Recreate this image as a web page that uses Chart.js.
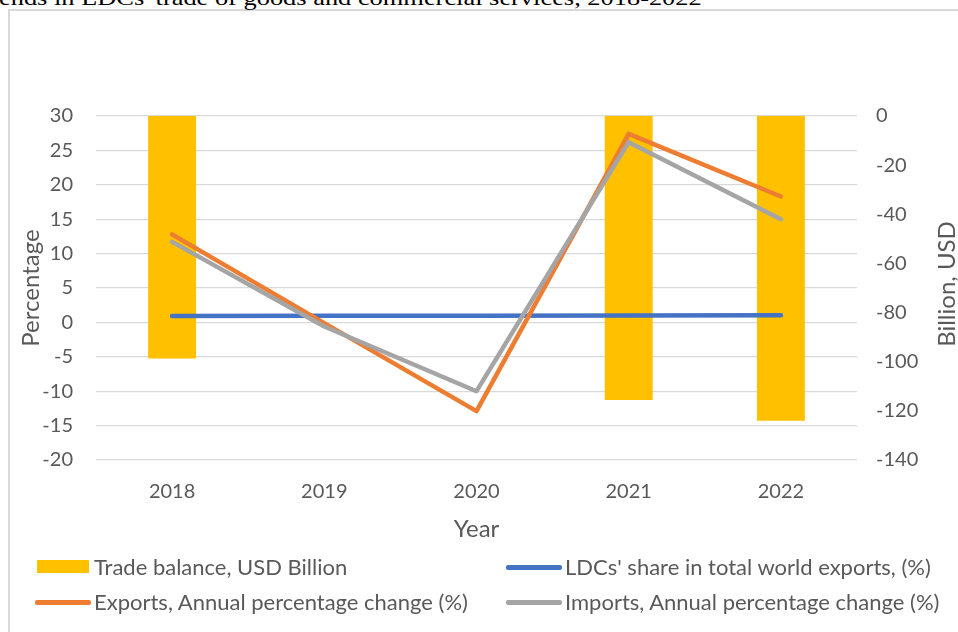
<!DOCTYPE html>
<html>
<head>
<meta charset="utf-8">
<script src="https://cdn.jsdelivr.net/npm/chart.js@4"></script>
<style>
  html, body { margin: 0; padding: 0; background: #fff; }
  body { width: 958px; height: 632px; position: relative; overflow: hidden; }
  #frame { position: absolute; left: 8px; top: 9px; width: 2000px; height: 2000px; border: 2px solid #d9d9d9; box-sizing: border-box; }
  #title { position: absolute; left: -1px; top: -12.7px; font: 22px "Liberation Serif", "Times New Roman", serif; line-height: 22px; color: #000; white-space: nowrap; transform: scaleX(1.2); transform-origin: 0 0; }
  #wrap { position: absolute; left: 0; top: 0; width: 958px; height: 632px; }
  .leg { position: absolute; font: 22px Lato, sans-serif; color: #595959; white-space: nowrap; line-height: 26px; }
  .sw { position: absolute; }
</style>
</head>
<body>
<div id="frame"></div>
<div id="title">ends in LDCs' trade of goods and commercial services, 2018-2022</div>
<div id="wrap"><canvas id="chart" width="958" height="632"></canvas></div>
<div id="legend"></div>
<script>
// categories and series
const years = ['2018', '2019', '2020', '2021', '2022'];
const tradeBalance = [-98.7, null, null, -115.6, -124.0];      // USD billion, right axis
const worldShare = [0.93, 0.97, 0.95, 1.0, 1.05];              // %
const exportsChange = [12.8, -0.1, -12.9, 27.4, 18.3];          // %
const importsChange = [11.7, -0.6, -10.0, 26.2, 15.0];          // %

const TICK_FONT = { family: 'Lato', size: 20 };
const TITLE_FONT = { family: 'Lato', size: 24 };
const TEXT = '#595959';

function lineSet(label, data, color, order) {
  return {
    type: 'line',
    label: label,
    data: data,
    yAxisID: 'y',
    borderColor: color,
    backgroundColor: color,
    borderWidth: 4.5,
    borderCapStyle: 'round',
    borderJoinStyle: 'round',
    pointRadius: 0,
    tension: 0,
    order: order
  };
}

// right axis title reads bottom-to-top like the left one
const rightTitle = {
  id: 'rightTitle',
  afterDraw(c) {
    const g = c.ctx;
    const area = c.chartArea;
    g.save();
    g.translate(947.5, (area.top + area.bottom) / 2 - 4);
    g.rotate(-Math.PI / 2);
    g.font = `${TITLE_FONT.size}px ${TITLE_FONT.family}`;
    g.fillStyle = TEXT;
    g.textAlign = 'center';
    g.textBaseline = 'middle';
    g.fillText('Billion, USD', 0, 0);
    g.restore();
  }
};

const ctx = document.getElementById('chart').getContext('2d');
const chart = new Chart(ctx, {
  type: 'bar',
  data: {
    labels: years,
    datasets: [
      {
        type: 'bar',
        label: 'Trade balance, USD Billion',
        data: tradeBalance,
        yAxisID: 'y1',
        backgroundColor: '#FFC000',
        borderWidth: 0,
        categoryPercentage: 1,
        barPercentage: 0.315,
        order: 4
      },
      lineSet("LDCs' share in total world exports, (%)", worldShare, '#4472C4', 3),
      lineSet('Exports, Annual percentage change (%)', exportsChange, '#ED7D31', 2),
      lineSet('Imports, Annual percentage change (%)', importsChange, '#A5A5A5', 1)
    ]
  },
  plugins: [rightTitle],
  options: {
    responsive: false,
    animation: false,
    layout: { padding: { top: 116, bottom: 88, left: 0, right: 0 } },
    plugins: {
      legend: { display: false },
      tooltip: { enabled: false }
    },
    scales: {
      x: {
        offset: true,
        grid: { display: false, drawTicks: false },
        border: { display: false },
        ticks: { color: TEXT, font: TICK_FONT, padding: 20, maxRotation: 0 },
        title: { display: true, text: 'Year', color: TEXT, font: TITLE_FONT, padding: 0 },
        afterFit: (s) => { s.height = 84; }
      },
      y: {
        position: 'left',
        min: -20,
        max: 30,
        ticks: { stepSize: 5, color: TEXT, font: TICK_FONT, padding: 23 },
        grid: { color: '#D9D9D9', lineWidth: 1.3, drawTicks: false },
        border: { display: false },
        title: { display: true, text: 'Percentage', color: TEXT, font: TITLE_FONT, padding: { top: 17, bottom: 0 } },
        afterFit: (s) => { s.width = 96; }
      },
      y1: {
        position: 'right',
        min: -140,
        max: 0,
        ticks: { stepSize: 20, color: TEXT, font: TICK_FONT, padding: 19 },
        grid: { display: false, drawTicks: false },
        border: { display: false },
        afterFit: (s) => { s.width = 101; }
      }
    }
  }
});

// legend in two columns, built from the datasets
const legendSlots = [
  { x: 37, y: 567 }, { x: 508, y: 567 },
  { x: 37, y: 602 }, { x: 508, y: 602 }
];
const legend = document.getElementById('legend');
chart.data.datasets.forEach((ds, i) => {
  const slot = legendSlots[i];
  const sw = document.createElement('div');
  sw.className = 'sw';
  if (ds.type === 'bar') {
    sw.style.cssText = `left:${slot.x}px;top:${slot.y - 7}px;width:52px;height:13px;background:${ds.backgroundColor}`;
  } else {
    sw.style.cssText = `left:${slot.x - 2}px;top:${slot.y - 2}px;width:56px;height:4.5px;border-radius:2px;background:${ds.borderColor}`;
  }
  legend.appendChild(sw);
  const t = document.createElement('div');
  t.className = 'leg';
  t.style.left = (slot.x + 57) + 'px';
  t.style.top = (slot.y - 13) + 'px';
  t.textContent = ds.label;
  legend.appendChild(t);
});
</script>
</body>
</html>
